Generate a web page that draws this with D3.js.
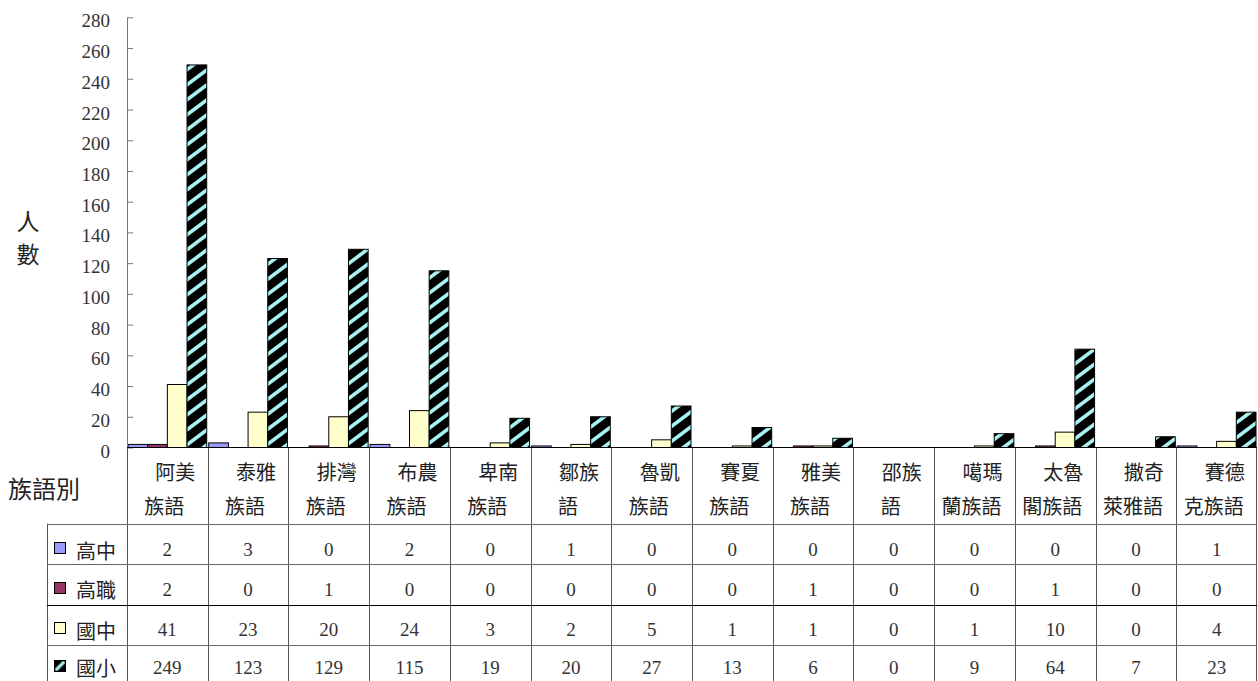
<!DOCTYPE html>
<html>
<head>
<meta charset="utf-8">
<script src="https://cdn.jsdelivr.net/npm/d3@7"></script>
<style>
  html, body { margin: 0; padding: 0; background: #fff; }
  svg { display: block; }
</style>
</head>
<body>
<svg id="chart" width="1258" height="681"></svg>
<script>
// ---------- data ----------
const categories = ["阿美族語","泰雅族語","排灣族語","布農族語","卑南族語","鄒族語","魯凱族語","賽夏族語","雅美族語","邵族語","噶瑪蘭族語","太魯閣族語","撒奇萊雅語","賽德克族語"];
const categoryLine1 = ["阿美","泰雅","排灣","布農","卑南","鄒族","魯凱","賽夏","雅美","邵族","噶瑪","太魯","撒奇","賽德"];
const categoryLine2 = ["族語","族語","族語","族語","族語","語","族語","族語","族語","語","蘭族語","閣族語","萊雅語","克族語"];
const seriesNames = ["高中","高職","國中","國小"];
const seniorHigh   = [2,3,0,2,0,1,0,0,0,0,0,0,0,1];
const vocational   = [2,0,1,0,0,0,0,0,1,0,0,1,0,0];
const juniorHigh   = [41,23,20,24,3,2,5,1,1,0,1,10,0,4];
const elementary   = [249,123,129,115,19,20,27,13,6,0,9,64,7,23];
const yTicks = [0,20,40,60,80,100,120,140,160,180,200,220,240,260,280];
const yTitle = ["人","數"];
const xTitle = "族語別";

const seriesValues = [seniorHigh, vocational, juniorHigh, elementary];
const seriesFill = ["#9999ff", "#993366", "#ffffcc", "url(#stripe)"];
const keyFill    = ["#9999ff", "#993366", "#ffffcc", "url(#stripeKey)"];

const NUM_FONT = "'Liberation Serif', 'Times New Roman', serif";
const CJK_FONT = "'Noto Sans CJK TC', 'Noto Sans CJK SC', sans-serif";

// ---------- layout ----------
const svg = d3.select("#chart");
const plotLeft = 127, plotRight = 1257, plotTop = 17.3, plotBottom = 447.5;
const tableLeft = 47, headerBottom = 523.5, rowH = 40.5, tableBottom = 681;
const rowTextOffset = [26.5, 25.5, 25.5, 22.5];

const x = d3.scaleBand().domain(categories).range([plotLeft, plotRight]).padding(0);
const xs = d3.scaleBand().domain(seriesNames).range([1, x.bandwidth() - 1]).padding(0);
const y = d3.scaleLinear().domain([0, 280]).range([plotBottom, plotTop]);

// patterns
const defs = svg.append("defs");
const cyan = "#a8f2f2";
const pat = defs.append("pattern").attr("id", "stripe")
  .attr("patternUnits", "userSpaceOnUse").attr("width", 20).attr("height", 15);
pat.append("rect").attr("width", 20).attr("height", 15).attr("fill", "#000");
pat.append("path").attr("d", "M-20,15 L0,0 M0,15 L20,0 M20,15 L40,0 M-20,30 L20,0 M0,30 L40,0 M-20,0 L0,-15 M0,0 L20,-15")
  .attr("stroke", cyan).attr("stroke-width", 3.6);
const patK = defs.append("pattern").attr("id", "stripeKey")
  .attr("patternUnits", "objectBoundingBox").attr("patternContentUnits", "objectBoundingBox")
  .attr("width", 1).attr("height", 1);
patK.append("rect").attr("width", 1).attr("height", 1).attr("fill", "#000");
patK.append("path").attr("d", "M0.1,0.9 L0.9,0.1").attr("stroke", cyan).attr("stroke-width", 0.28);

// ---------- bars ----------
seriesNames.forEach((s, j) => {
  const vals = seriesValues[j];
  svg.append("g").selectAll("rect")
    .data(categories.map((c, i) => ({ c, v: vals[i] })).filter(d => d.v > 0))
    .join("rect")
    .attr("x", d => x(d.c) + xs(s))
    .attr("width", xs.bandwidth())
    .attr("y", d => y(d.v))
    .attr("height", d => y(0) - y(d.v))
    .attr("fill", seriesFill[j])
    .attr("stroke", "#000")
    .attr("stroke-width", 1);
});

// ---------- y axis ----------
const yAxis = d3.axisLeft(y).tickValues(yTicks).tickSizeInner(-6).tickSizeOuter(0).tickPadding(17);
const gy = svg.append("g").attr("transform", `translate(${plotLeft},0)`).call(yAxis);
gy.attr("font-family", NUM_FONT).attr("font-size", 19);
gy.select(".domain").attr("stroke", "#777");
gy.selectAll(".tick line").attr("stroke", "#777");
gy.selectAll(".tick text").attr("fill", "#333").attr("y", 3.5);

// y title
svg.append("g").selectAll("text").data(yTitle).join("text")
  .attr("font-family", CJK_FONT).attr("x", 28).attr("y", (d, i) => 220 + i * 33)
  .attr("text-anchor", "middle").attr("dominant-baseline", "central")
  .attr("font-size", 23).attr("fill", "#222").text(d => d);

// x title
svg.append("text").attr("font-family", CJK_FONT).attr("x", 8).attr("y", 487)
  .attr("dominant-baseline", "central").attr("font-size", 24).attr("fill", "#222").text(xTitle);

// ---------- table ----------
const lines = svg.append("g").attr("stroke", "#555").attr("stroke-width", 1);
svg.append("line").attr("x1", plotLeft).attr("x2", plotRight).attr("y1", plotBottom).attr("y2", plotBottom)
  .attr("stroke", "#000");
const bounds = categories.map(c => x(c)).concat([plotRight - 1]);
lines.selectAll("line.col").data(bounds).join("line").attr("class", "col")
  .attr("x1", d => Math.round(d) + 0.5).attr("x2", d => Math.round(d) + 0.5)
  .attr("y1", plotBottom).attr("y2", tableBottom);
lines.append("line").attr("x1", tableLeft + 0.5).attr("x2", tableLeft + 0.5)
  .attr("y1", headerBottom).attr("y2", tableBottom);
const rowTops = seriesNames.map((s, k) => headerBottom + k * rowH);
lines.selectAll("line.row").data(rowTops).join("line").attr("class", "row")
  .attr("x1", tableLeft).attr("x2", plotRight)
  .attr("y1", d => Math.round(d) + 0.5).attr("y2", d => Math.round(d) + 0.5)
  .attr("stroke", (d, k) => k === 2 ? "#000" : "#666");

// header labels
const hdr = svg.append("g").attr("font-family", CJK_FONT).attr("font-size", 20).attr("fill", "#222")
  .attr("text-anchor", "middle").attr("dominant-baseline", "central");
hdr.selectAll("text.l1").data(categories).join("text").attr("class", "l1")
  .attr("x", d => x(d) + x.bandwidth() / 2 + 8).attr("y", 471.5).text((d, i) => categoryLine1[i]);
hdr.selectAll("text.l2").data(categories).join("text").attr("class", "l2")
  .attr("x", d => x(d) + x.bandwidth() / 2 - 3).attr("y", 505).text((d, i) => categoryLine2[i]);

// legend keys + row labels + values
seriesNames.forEach((s, k) => {
  const top = rowTops[k];
  const cy = top + rowTextOffset[k];
  svg.append("rect").attr("x", 54.5).attr("y", Math.round(cy - 8) + 0.5).attr("width", 11).attr("height", 11)
    .attr("fill", keyFill[k]).attr("stroke", "#000").attr("stroke-width", 1);
  svg.append("text").attr("font-family", CJK_FONT).attr("x", 76).attr("y", cy)
    .attr("dominant-baseline", "central").attr("font-size", 20).attr("fill", "#222").text(s);
  svg.append("g").selectAll("text").data(categories).join("text")
    .attr("font-family", NUM_FONT).attr("font-size", 19).attr("fill", "#333").attr("text-anchor", "middle")
    .attr("x", d => x(d) + x.bandwidth() / 2).attr("y", cy).attr("dy", "0.33em")
    .text((d, i) => seriesValues[k][i]);
});
</script>
</body>
</html>
